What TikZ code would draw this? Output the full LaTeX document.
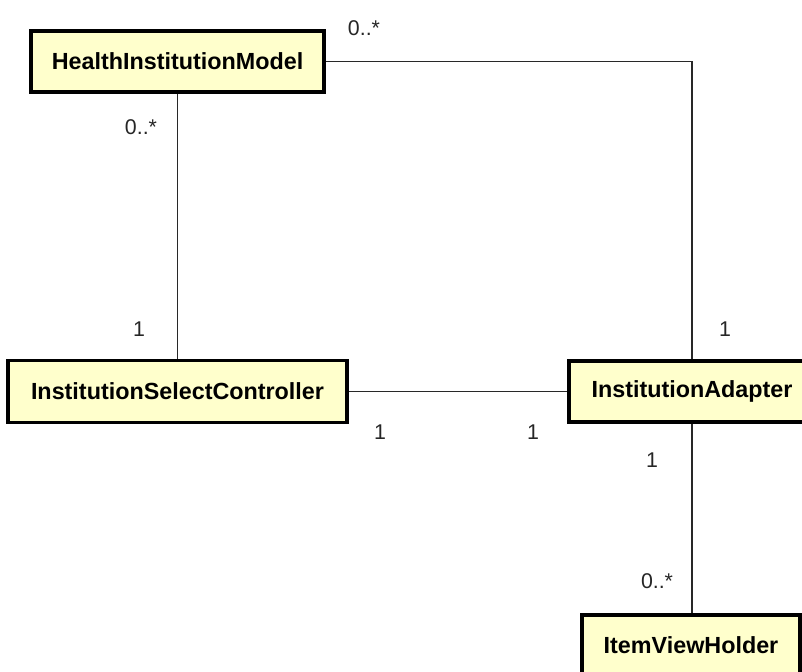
\documentclass[tikz,border=0pt]{standalone}
\usepackage{fontspec}
\setmainfont{Liberation Sans}
\definecolor{umlyellow}{RGB}{255,255,204}
\definecolor{linegray}{RGB}{40,40,40}
\begin{document}
\begin{tikzpicture}[x=0.75pt,y=-0.75pt,
  cls/.style={draw=black,line width=2.4pt,fill=umlyellow,font=\bfseries\fontsize{17.5}{20}\selectfont,inner sep=0pt},
  assoc/.style={draw=linegray,line width=1pt},
  mult/.style={font=\fontsize{16}{19}\selectfont,inner sep=0pt,text=black!85}]
\useasboundingbox (0,0) rectangle (802,671);
\clip (0,0) rectangle (802,671);
\fill[white] (0,0) rectangle (802,671);
% classes
\node[cls,minimum width=219.75pt,minimum height=45.75pt] (him) at (177.5,61.5) {HealthInstitutionModel};
\node[cls,minimum width=254.25pt,minimum height=46.5pt] (isc) at (177.5,391.5) {InstitutionSelectController};
\node[cls,minimum width=184.5pt,minimum height=45.75pt] (ia) at (692,391.5) {InstitutionAdapter};
\node[cls,minimum width=163.5pt,minimum height=45.75pt] (ivh) at (691,645.5) {ItemViewHolder};
% associations
\draw[assoc] (him.east) -| (ia.north);
\draw[assoc] (him.south) -- (isc.north);
\draw[assoc] (isc.east) -- (ia.west);
\draw[assoc] (ia.south) -- (ia.south |- ivh.north);
% multiplicities
\node[mult] (m1) at (364,28) {0..*};
\node[mult] (m2) at (141,127) {0..*};
\node[mult] (m3) at (139,329) {1};
\node[mult] (m4) at (725,329) {1};
\node[mult] (m5) at (380,432) {1};
\node[mult] (m6) at (533,432) {1};
\node[mult] (m7) at (652,460) {1};
\node[mult] (m8) at (657,581) {0..*};
\end{tikzpicture}
\end{document}
